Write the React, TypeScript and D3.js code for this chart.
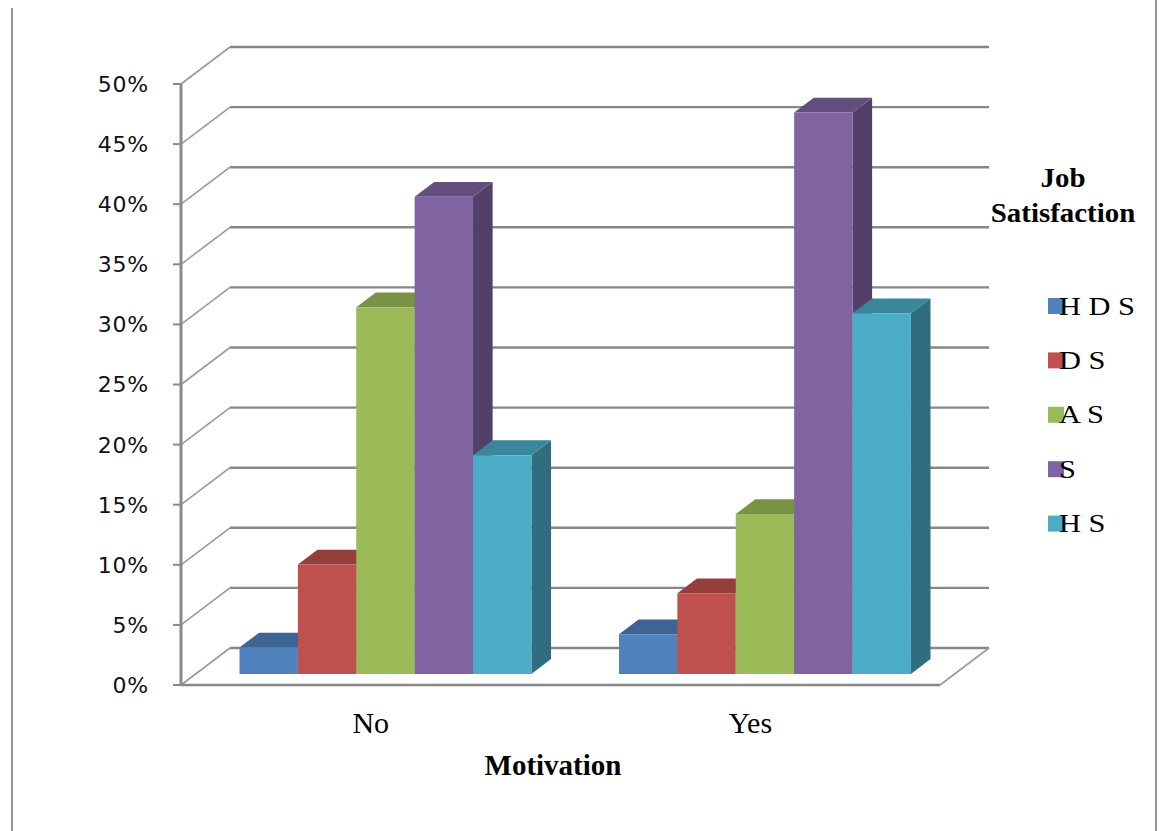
import React from "react";
import * as d3 from "d3";

// Motivation groups on the x axis
const categories = ["No", "Yes"];
// Job satisfaction levels (legend entries)
const seriesNames = ["H D S", "D S", "A S", "S", "H S"];
const seriesColors = ["#4F81BD", "#C0504D", "#9BBB59", "#8064A2", "#4BACC6"];
// Percent of respondents per satisfaction level
const noValues = [2.2, 9.1, 30.5, 39.7, 18.2];
const yesValues = [3.3, 6.7, 13.3, 46.7, 30.0];
const yTicks = [0, 5, 10, 15, 20, 25, 30, 35, 40, 45, 50];

const W = 1161;
const H = 831;

// Front plane of the 3D box
const FRONT_LEFT = 181;
const FRONT_RIGHT = 940;
const FRONT_BOTTOM = 685;
const FRONT_TOP = 84;
// Depth offset from the front plane to the back wall
const DEPTH_DX = 49;
const DEPTH_DY = -37;
// Bars sit in the middle of the depth range
const BAR_Z0 = 0.3;
const BAR_Z1 = 0.7;

const valuesByCategory: Record<string, number[]> = { No: noValues, Yes: yesValues };

export default function App() {
  const y = d3.scaleLinear().domain([0, 50]).range([FRONT_BOTTOM, FRONT_TOP]);
  const zx = d3.scaleLinear().domain([0, 1]).range([0, DEPTH_DX]);
  const zy = d3.scaleLinear().domain([0, 1]).range([0, DEPTH_DY]);
  const xCat = d3.scaleBand<string>().domain(categories).range([FRONT_LEFT, FRONT_RIGHT]).padding(0);
  const xSer = d3
    .scaleBand<string>()
    .domain(seriesNames)
    .range([0, xCat.bandwidth()])
    .paddingInner(0)
    .paddingOuter(0.75);

  const p = (x: number, v: number, z: number): [number, number] => [x + zx(z), y(v) + zy(z)];
  const poly = (pts: [number, number][]) => pts.map((q) => q.join(",")).join(" ");

  const gridColor = "#878787";
  const sideColor = "#9a9a9a";

  const bars: React.ReactNode[] = [];
  categories.forEach((cat) => {
    valuesByCategory[cat].forEach((v, i) => {
      const x0 = (xCat(cat) as number) + (xSer(seriesNames[i]) as number);
      const x1 = x0 + xSer.bandwidth();
      const base = d3.color(seriesColors[i]) as d3.RGBColor;
      const top = base.darker(0.7).formatHex();
      const side = base.darker(1.25).formatHex();
      const front = [p(x0, v, BAR_Z0), p(x1, v, BAR_Z0), p(x1, 0, BAR_Z0), p(x0, 0, BAR_Z0)];
      const topFace = [p(x0, v, BAR_Z0), p(x1, v, BAR_Z0), p(x1, v, BAR_Z1), p(x0, v, BAR_Z1)];
      const sideFace = [p(x1, 0, BAR_Z0), p(x1, v, BAR_Z0), p(x1, v, BAR_Z1), p(x1, 0, BAR_Z1)];
      bars.push(
        <g key={`${cat}-${i}`}>
          <polygon points={poly(sideFace)} fill={side} />
          <polygon points={poly(topFace)} fill={top} />
          <polygon points={poly(front)} fill={seriesColors[i]} />
        </g>
      );
    });
  });

  const legendX = 1048;
  const legendY0 = 298;
  const legendStep = 54.4;

  return (
    <svg
      width={W}
      height={H}
      viewBox={`0 0 ${W} ${H}`}
      style={{ position: "absolute", left: 0, top: 0, background: "#fff" }}
    >
      <rect width={W} height={H} fill="#fff" />
      {/* outer frame edges */}
      <line x1={12} y1={8} x2={12} y2={H} stroke="#959595" strokeWidth={2} />
      <line x1={1156} y1={0} x2={1156} y2={H} stroke="#959595" strokeWidth={2} />

      {/* back wall gridlines */}
      {yTicks.map((t) => {
        const a = p(FRONT_LEFT, t, 1);
        const b = p(FRONT_RIGHT, t, 1);
        return <line key={`g${t}`} x1={a[0]} y1={a[1]} x2={b[0]} y2={b[1]} stroke={gridColor} strokeWidth={2.4} />;
      })}
      {/* side wall gridlines */}
      {yTicks.map((t) => {
        const a = p(FRONT_LEFT, t, 0);
        const b = p(FRONT_LEFT, t, 1);
        return <line key={`s${t}`} x1={a[0]} y1={a[1]} x2={b[0]} y2={b[1]} stroke={sideColor} strokeWidth={1.6} />;
      })}
      {/* floor edges */}
      {(() => {
        const a = p(FRONT_LEFT, 0, 0);
        const b = p(FRONT_RIGHT, 0, 0);
        const c = p(FRONT_RIGHT, 0, 1);
        return (
          <g>
            <line x1={a[0]} y1={a[1]} x2={b[0]} y2={b[1]} stroke={gridColor} strokeWidth={2.4} />
            <line x1={b[0]} y1={b[1]} x2={c[0]} y2={c[1]} stroke={sideColor} strokeWidth={1.6} />
          </g>
        );
      })()}

      {bars}

      {/* value axis */}
      <line x1={FRONT_LEFT} y1={y(50)} x2={FRONT_LEFT} y2={y(0) + 1} stroke="#8a8a8a" strokeWidth={3} />
      {yTicks.map((t) => (
        <g key={`t${t}`}>
          <line x1={FRONT_LEFT - 8} y1={y(t)} x2={FRONT_LEFT} y2={y(t)} stroke="#8a8a8a" strokeWidth={2} />
          <text
            x={149}
            y={y(t)}
            dy="0.36em"
            textAnchor="end"
            fontFamily="DejaVu Sans"
            fontSize={22}
            letterSpacing={0.8}
            fill="#111"
          >
            {`${t}%`}
          </text>
        </g>
      ))}

      {/* category labels */}
      {categories.map((c) => (
        <text
          key={c}
          x={(xCat(c) as number) + xCat.bandwidth() / 2}
          y={733}
          textAnchor="middle"
          fontFamily="Liberation Serif"
          fontSize={30}
          fill="#000"
        >
          {c}
        </text>
      ))}
      <text x={553} y={775} textAnchor="middle" fontFamily="Liberation Serif" fontWeight="bold" fontSize={29} fill="#000">
        Motivation
      </text>

      {/* legend */}
      <g transform="translate(1063,0) scale(1.07,1)">
        <text x={0} y={187} textAnchor="middle" fontFamily="Liberation Serif" fontWeight="bold" fontSize={27} fill="#000">
          Job
        </text>
        <text x={0} y={222} textAnchor="middle" fontFamily="Liberation Serif" fontWeight="bold" fontSize={27} fill="#000">
          Satisfaction
        </text>
      </g>
      {seriesNames.map((s, i) => {
        const yy = legendY0 + i * legendStep;
        return (
          <g key={s}>
            <rect x={legendX} y={yy} width={16} height={16} fill={seriesColors[i]} />
            <text
              transform={`translate(1059,${yy + 16.5}) scale(1.17,1)`}
              fontFamily="Liberation Serif"
              fontSize={26}
              fill="#000"
            >
              {s}
            </text>
          </g>
        );
      })}
    </svg>
  );
}
